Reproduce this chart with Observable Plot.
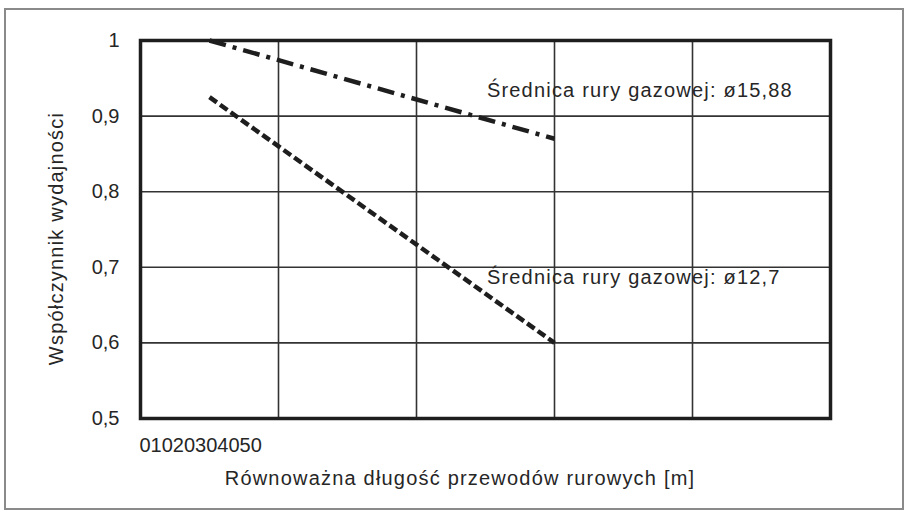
<!DOCTYPE html>
<html>
<head>
<meta charset="utf-8">
<script src="https://cdn.jsdelivr.net/npm/d3@7"></script>
<script src="https://cdn.jsdelivr.net/npm/@observablehq/plot@0.6"></script>
<style>
  html, body { margin: 0; padding: 0; background: #fff; }
  #wrap { position: relative; width: 907px; height: 512px; }
  #outer { position: absolute; left: 4px; top: 8px; width: 896px; height: 498px; border: 2px solid #8a8a8a; pointer-events: none; }
  .words text { letter-spacing: 1.2px; }
</style>
</head>
<body>
<div id="wrap"><div id="outer"></div></div>
<script>
const xValues = [5, 30];
const seriesNames = ["Średnica rury gazowej: ø15,88", "Średnica rury gazowej: ø12,7"];
const values1588 = [1.0, 0.87];
const values127 = [0.925, 0.6];
const xTickLabels = ["0", "10", "20", "30", "40", "50"];
const xGrid = [0, 10, 20, 30, 40, 50];
const yTicks = [0.5, 0.6, 0.7, 0.8, 0.9, 1.0];
const labelX = [25.1, 25.1];
const labelY = [0.934, 0.686];
const xTitle = "Równoważna długość przewodów rurowych [m]";
const yTitle = "Współczynnik wydajności";

const s1 = xValues.map((x, i) => ({x, y: values1588[i]}));
const s2 = xValues.map((x, i) => ({x, y: values127[i]}));
const notes = seriesNames.map((t, i) => ({t, x: labelX[i], y: labelY[i]}));

const ink = "#262626";
const font = "'Liberation Sans', Arial, sans-serif";
const chart = Plot.plot({
  width: 907, height: 512,
  marginLeft: 140, marginRight: 77, marginTop: 40, marginBottom: 94,
  style: {fontFamily: font, fontSize: "20px", color: ink, background: "transparent"},
  x: {domain: [0, 50], axis: null},
  y: {domain: [0.5, 1], ticks: yTicks, tickFormat: d => String(+d.toFixed(1)).replace(".", ","), tickSize: 0, tickPadding: 21, label: null, fontSize: 20},
  marks: [
    Plot.gridX(xGrid, {stroke: "#333", strokeOpacity: 1, strokeWidth: 1.6}),
    Plot.gridY(yTicks, {stroke: "#333", strokeOpacity: 1, strokeWidth: 1.6}),
    Plot.frame({stroke: "#1e1e1e", strokeWidth: 3.5}),
    Plot.line(s1, {x: "x", y: "y", stroke: "#1e1e1e", strokeWidth: 4.5, strokeLinecap: "butt", strokeDasharray: "17,7,4,7"}),
    Plot.line(s2, {x: "x", y: "y", stroke: "#1e1e1e", strokeWidth: 4.5, strokeLinecap: "butt", strokeDasharray: "9,4"}),
    Plot.text(notes, {x: "x", y: "y", text: "t", textAnchor: "start", fill: ink, fontSize: 20, className: "words"}),
    Plot.text([xTickLabels.join("")], {x: 0, y: 0.5, text: d => d, textAnchor: "start", dx: -1, dy: 27, fill: ink, fontSize: 20}),
    Plot.text([xTitle], {frameAnchor: "bottom", text: d => d, textAnchor: "middle", lineAnchor: "middle", dx: -25.5, dy: 60, fill: ink, fontSize: 20, className: "words"}),
    Plot.text([yTitle], {frameAnchor: "left", text: d => d, textAnchor: "middle", lineAnchor: "middle", dx: -84, dy: 9, rotate: -90, fill: ink, fontSize: 20, className: "words"})
  ]
});
document.getElementById("wrap").prepend(chart);
</script>
</body>
</html>
